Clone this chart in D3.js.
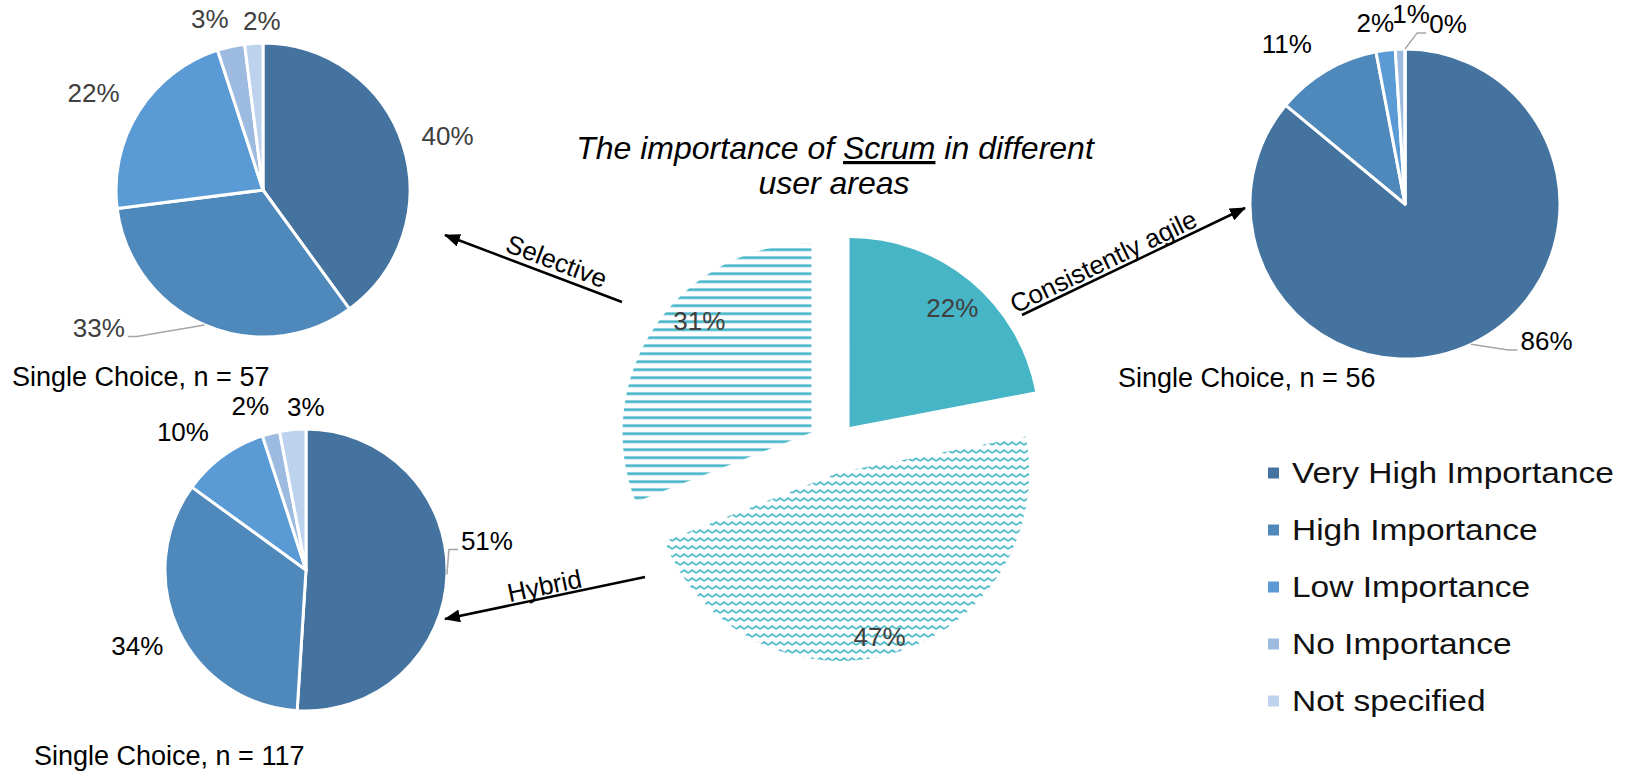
<!DOCTYPE html>
<html>
<head>
<meta charset="utf-8">
<script src="https://cdn.jsdelivr.net/npm/d3@7"></script>
<style>
  html, body { margin: 0; padding: 0; background: #fff; }
  svg { display: block; font-family: "Liberation Sans", Arial, sans-serif; }
</style>
</head>
<body>
<div id="container"></div>
<script>
// ---- data ----
const importanceLevels = ["Very High Importance", "High Importance", "Low Importance", "No Importance", "Not specified"];
const importanceColors = ["#44739F", "#4F89BC", "#5B9BD5", "#9DBBE0", "#BDD2EC"];

const selectiveValues = [40, 33, 22, 3, 2];
const agileValues = [86, 11, 2, 1, 0];
const hybridValues = [51, 34, 10, 2, 3];

const areaNames = ["Consistently agile", "Hybrid", "Selective"];
const areaValues = [22, 47, 31];

const sampleNotes = ["Single Choice, n = 57", "Single Choice, n = 56", "Single Choice, n = 117"];

// ---- layout ----
const width = 1625, height = 771;

const svg = d3.select("#container")
  .append("svg")
  .attr("width", width)
  .attr("height", height);

const color = d3.scaleOrdinal().domain(d3.range(importanceLevels.length)).range(importanceColors);
const pie = d3.pie().sort(null).value(d => d);

// patterns for the centre pie
const defs = svg.append("defs");
const teal = "#46B5C6";

const hlines = defs.append("pattern")
  .attr("id", "hlines")
  .attr("patternUnits", "userSpaceOnUse")
  .attr("width", 8).attr("height", 8);
hlines.append("rect").attr("x", 0).attr("y", 0).attr("width", 8).attr("height", 2.7).attr("fill", teal);

const wave = defs.append("pattern")
  .attr("id", "wave")
  .attr("patternUnits", "userSpaceOnUse")
  .attr("width", 8).attr("height", 8);
wave.append("path")
  .attr("d", "M0,5 L4,2 L8,5")
  .attr("fill", "none")
  .attr("stroke", teal)
  .attr("stroke-width", 1.8);

defs.append("marker")
  .attr("id", "arrowhead")
  .attr("markerUnits", "userSpaceOnUse")
  .attr("viewBox", "0 0 16 13")
  .attr("markerWidth", 16)
  .attr("markerHeight", 13)
  .attr("refX", 15)
  .attr("refY", 6.5)
  .attr("orient", "auto")
  .append("path")
  .attr("d", "M0,0 L16,6.5 L0,13 z")
  .attr("fill", "#000");

// ---- small pies ----
function drawSmallPie(opts) {
  const { values, cx, cy, r, labelColor, note, noteX, noteY, nudges, leaders } = opts;
  const g = svg.append("g").attr("transform", `translate(${cx},${cy})`);
  const arcs = pie(values);
  const arc = d3.arc().innerRadius(0).outerRadius(r);
  const labelArc = d3.arc().innerRadius(r * 1.22).outerRadius(r * 1.22);

  g.selectAll("path.slice")
    .data(arcs)
    .join("path")
    .attr("class", "slice")
    .attr("d", arc)
    .attr("fill", (d, i) => color(i))
    .attr("stroke", "#fff")
    .attr("stroke-width", 3)
    .attr("stroke-linejoin", "round");

  arcs.forEach((d, i) => {
    const [lx, ly] = labelArc.centroid(d);
    const x = lx + nudges[i][0];
    const y = ly + nudges[i][1];
    const txt = g.append("text")
      .attr("x", x)
      .attr("y", y)
      .attr("dy", "0.35em")
      .attr("text-anchor", "middle")
      .style("font-size", "26px")
      .style("fill", labelColor)
      .text(`${d.value}%`);

    if (leaders.includes(i)) {
      const w = txt.node().getComputedTextLength();
      const mid = (d.startAngle + d.endAngle) / 2;
      const ax = Math.sin(mid) * r, ay = -Math.cos(mid) * r;
      const side = x > ax ? -1 : 1;            // which edge of the label faces the pie
      const ex = x + side * w / 2;
      const ly2 = y + 9;
      g.append("polyline")
        .attr("points", [[ax, ay], [ex + side * 12, ly2], [ex + side * 3, ly2]].map(p => p.join(",")).join(" "))
        .attr("fill", "none")
        .attr("stroke", "#A6A6A6")
        .attr("stroke-width", 1.5);
    }
  });

  g.append("text")
    .attr("x", noteX - cx)
    .attr("y", noteY - cy)
    .style("font-size", "27px")
    .style("fill", "#000")
    .text(note);
}

drawSmallPie({
  values: selectiveValues, cx: 263, cy: 190, r: 147,
  labelColor: "#404040", note: sampleNotes[0], noteX: 12, noteY: 386,
  nudges: [[14, 1], [-93, -27], [-18, -1], [-14, 4], [10, 10]],
  leaders: [1]
});

drawSmallPie({
  values: agileValues, cx: 1405, cy: 204, r: 155,
  labelColor: "#000", note: sampleNotes[1], noteX: 1118, noteY: 387,
  nudges: [[61, -34], [-22, 3], [-6, 6], [12, -1], [43, 9]],
  leaders: [0, 4]
});

drawSmallPie({
  values: hybridValues, cx: 306, cy: 570, r: 141,
  labelColor: "#000", note: sampleNotes[2], noteX: 34, noteY: 765,
  nudges: [[9, -35], [-13, 3], [-22, 1], [-13, 3], [16, 8]],
  leaders: [0]
});

// ---- centre exploded pie ----
const centre = { cx: 833, cy: 447, r: 189, explode: 26 };
const centreFills = [teal, "url(#wave)", "url(#hlines)"];
const centreNudges = [[4, 0], [-4, 16], [16, -24]];
const centreArc = d3.arc().innerRadius(0).outerRadius(centre.r);
const centreLabelArc = d3.arc().innerRadius(centre.r * 0.82).outerRadius(centre.r * 0.82);

const cg = svg.append("g").attr("transform", `translate(${centre.cx},${centre.cy})`);
pie(areaValues).forEach((d, i) => {
  const mid = (d.startAngle + d.endAngle) / 2;
  const ox = Math.sin(mid) * centre.explode, oy = -Math.cos(mid) * centre.explode;
  const sg = cg.append("g").attr("transform", `translate(${ox},${oy})`);
  sg.append("path")
    .attr("d", centreArc(d))
    .attr("fill", centreFills[i]);
  const [lx, ly] = centreLabelArc.centroid(d);
  sg.append("text")
    .attr("x", lx + centreNudges[i][0])
    .attr("y", ly + centreNudges[i][1])
    .attr("dy", "0.35em")
    .attr("text-anchor", "middle")
    .style("font-size", "26px")
    .style("fill", "#404040")
    .text(`${d.value}%`);
});

// ---- arrows ----
const arrows = [
  { label: areaNames[0], from: [1022, 315], to: [1245, 208], t: 0.39, gap: 4 },
  { label: areaNames[1], from: [645, 577], to: [445, 619], t: 0.49, gap: 3 },
  { label: areaNames[2], from: [622, 302], to: [445, 235], t: 0.40, gap: 6 }
];

arrows.forEach(a => {
  svg.append("line")
    .attr("x1", a.from[0]).attr("y1", a.from[1])
    .attr("x2", a.to[0]).attr("y2", a.to[1])
    .attr("stroke", "#000")
    .attr("stroke-width", 2.5)
    .attr("marker-end", "url(#arrowhead)");

  const px = a.from[0] + (a.to[0] - a.from[0]) * a.t;
  const py = a.from[1] + (a.to[1] - a.from[1]) * a.t;
  const [l, r] = a.from[0] < a.to[0] ? [a.from, a.to] : [a.to, a.from];
  const angle = Math.atan2(r[1] - l[1], r[0] - l[0]) * 180 / Math.PI;
  svg.append("text")
    .attr("transform", `translate(${px},${py}) rotate(${angle})`)
    .attr("y", -a.gap)
    .attr("text-anchor", "middle")
    .style("font-size", "26px")
    .style("fill", "#000")
    .text(a.label);
});

// ---- title ----
const title = svg.append("text")
  .attr("x", 835)
  .attr("y", 159)
  .attr("text-anchor", "middle")
  .style("font-size", "32px")
  .style("font-style", "italic")
  .style("fill", "#000");
title.append("tspan").text("The importance of ");
title.append("tspan").style("text-decoration", "underline").text("Scrum");
title.append("tspan").text(" in different");

svg.append("text")
  .attr("x", 834)
  .attr("y", 194)
  .attr("text-anchor", "middle")
  .style("font-size", "32px")
  .style("font-style", "italic")
  .style("fill", "#000")
  .text("user areas");

// ---- legend ----
const legendY = d3.scalePoint().domain(importanceLevels).range([473, 701]);
const legend = svg.append("g");

importanceLevels.forEach((name, i) => {
  const item = legend.append("g")
    .attr("transform", `translate(1268,${legendY(name)})`);
  item.append("rect")
    .attr("x", 0)
    .attr("y", -5.5)
    .attr("width", 11)
    .attr("height", 11)
    .attr("fill", color(i));
  item.append("text")
    .attr("transform", "translate(24,10) scale(1.155,1)")
    .style("font-size", "29px")
    .style("fill", "#111")
    .text(name);
});
</script>
</body>
</html>
